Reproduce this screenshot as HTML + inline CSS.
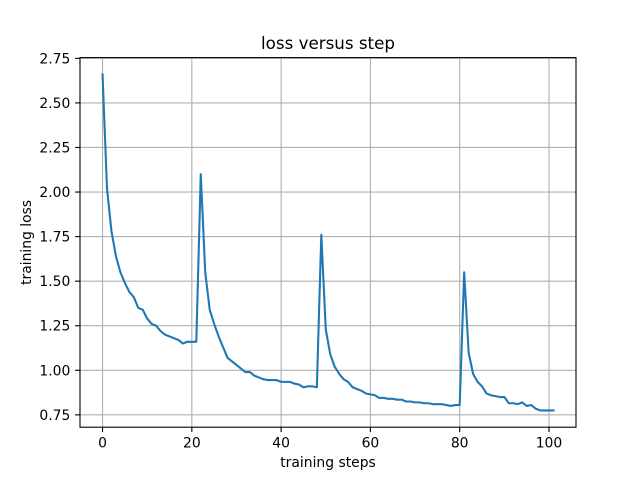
<!DOCTYPE html>
<html><head><meta charset="utf-8"><style>
body{margin:0;background:#fff;font-family:"Liberation Sans","DejaVu Sans",sans-serif}
svg text{font-family:"DejaVu Sans","Liberation Sans",sans-serif}
</style></head><body>
<svg id="chart" width="640" height="480" xmlns="http://www.w3.org/2000/svg">
<rect width="640" height="480" fill="#fff"/>
<g id="grid"></g><g id="ticks"></g><g id="series"></g>
<rect x="80" y="57.6" width="496" height="369.6" fill="none" stroke="#000" stroke-width="1.1"/>
<text x="328" y="49" text-anchor="middle" font-size="16.7">loss versus step</text>
<text x="328" y="467" text-anchor="middle" font-size="13.9">training steps</text>
<text transform="translate(31,242.4) rotate(-90)" text-anchor="middle" font-size="13.9">training loss</text>
</svg>
<script>
const xTicks=[0,20,40,60,80,100];
const yTicks=[0.75,1.00,1.25,1.50,1.75,2.00,2.25,2.50,2.75];
const losses=[2.66,2.02,1.78,1.64,1.55,1.49,1.44,1.41,1.35,1.34,1.29,1.26,1.25,1.22,1.20,1.19,1.18,1.17,1.15,1.16,1.16,1.16,2.10,1.55,1.34,1.26,1.19,1.13,1.07,1.05,1.03,1.01,0.99,0.99,0.97,0.96,0.95,0.945,0.945,0.945,0.935,0.935,0.935,0.925,0.92,0.905,0.91,0.91,0.905,1.76,1.23,1.09,1.02,0.98,0.95,0.935,0.905,0.895,0.885,0.87,0.865,0.86,0.845,0.845,0.84,0.84,0.835,0.835,0.825,0.825,0.82,0.82,0.815,0.815,0.81,0.81,0.81,0.805,0.80,0.805,0.805,1.55,1.10,0.98,0.935,0.91,0.87,0.86,0.855,0.85,0.85,0.815,0.815,0.81,0.82,0.80,0.805,0.785,0.775,0.775,0.775,0.775];
const L=80,R=576,T=57.6,B=427.2,NS="http://www.w3.org/2000/svg";
const n=losses.length-1;
const xmin=-0.05*n,xmax=n*1.05;
const lo=Math.min(...losses),hi=Math.max(...losses),pad=(hi-lo)*0.05;
const ymin=lo-pad,ymax=hi+pad;
const X=v=>L+(v-xmin)/(xmax-xmin)*(R-L);
const Y=v=>B-(v-ymin)/(ymax-ymin)*(B-T);
function mk(tag,a,parent){const e=document.createElementNS(NS,tag);for(const k in a)e.setAttribute(k,a[k]);document.getElementById(parent).appendChild(e);return e;}
xTicks.forEach(t=>{const x=X(t);
 const g=mk('line',{x1:x,x2:x,y1:T,y2:B,stroke:'#b0b0b0','stroke-width':1.1},'grid');
 
 
 mk('line',{x1:x,x2:x,y1:B,y2:B+4.9,stroke:'#000','stroke-width':1.1},'ticks');
 const tx=mk('text',{x:x,y:B+20.5,'text-anchor':'middle','font-size':13.9},'ticks');tx.textContent=t;
 
 
});
yTicks.forEach(t=>{const y=Y(t);
 const g=mk('line',{x1:L,x2:R,y1:y,y2:y,stroke:'#b0b0b0','stroke-width':1.1},'grid');
 
 
 mk('line',{x1:L-4.9,x2:L,y1:y,y2:y,stroke:'#000','stroke-width':1.1},'ticks');
 const tx=mk('text',{x:L-9.7,y:y+5,'text-anchor':'end','font-size':13.9},'ticks');tx.textContent=t.toFixed(2);
 
 
});
const p=mk('polyline',{points:losses.map((v,i)=>X(i)+','+Y(v)).join(' '),fill:'none',stroke:'#1f77b4','stroke-width':2.08,'stroke-linejoin':'round','stroke-linecap':'square'},'series');


</script>
</body></html>
